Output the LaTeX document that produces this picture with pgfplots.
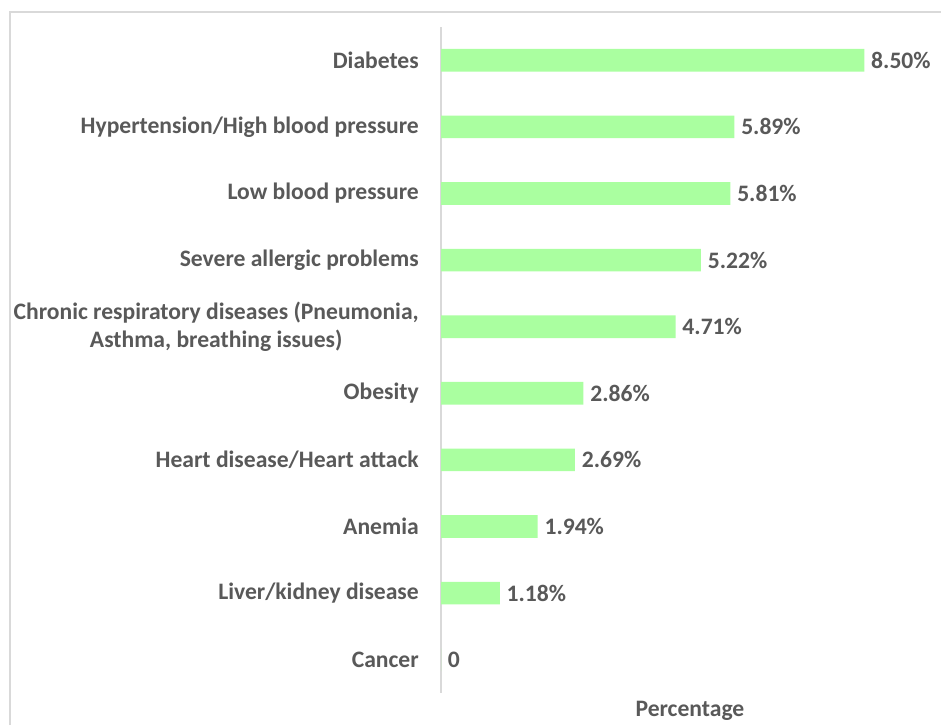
\documentclass[border=0pt]{standalone}
\usepackage{fontspec}
\setmainfont{Carlito}
\usepackage{pgfplots}
\usepackage{pgfplotstable}
\pgfplotsset{compat=1.18}
\definecolor{barg}{RGB}{170,255,160}
\definecolor{txt}{RGB}{89,89,89}
\definecolor{frm}{RGB}{217,217,217}
\pgfplotstableread[col sep=comma]{
idx,val,lab
0,8.50,8.50\%
1,5.89,5.89\%
2,5.81,5.81\%
3,5.22,5.22\%
4,4.71,4.71\%
5,2.86,2.86\%
6,2.69,2.69\%
7,1.94,1.94\%
8,1.18,1.18\%
9,0,0
}\datatable
\begin{document}
\begin{tikzpicture}[x=0.75pt,y=0.75pt]
\useasboundingbox (0,0) rectangle (941,725);
\fill[white] (0,0) rectangle (941,725);
\draw[frm,line width=0.8pt] (10,0) -- (10,713) -- (941,713);
\begin{axis}[
  at={(441pt*0.75,32pt*0.75)}, anchor=south west,
  scale only axis,
  width=373.5pt, height=499.5pt,
  xmin=0, xmax=10,
  ymin=-0.5, ymax=9.5,
  y dir=reverse,
  xbar, bar width=17pt,
  axis x line=none,
  axis y line*=left,
  y axis line style={draw=frm, line width=0.8pt},
  ytick={0,...,9},
  major tick length=0pt,
  yticklabels={Diabetes,Hypertension/High blood pressure,Low blood pressure,Severe allergic problems,{Chronic respiratory diseases (Pneumonia,\\Asthma, breathing issues)},Obesity,Heart disease/Heart attack,Anemia,Liver/kidney disease,Cancer},
  yticklabel style={font=\fontsize{17.7}{20.3}\selectfont\bfseries, text=txt, align=center, inner sep=0pt, xshift=-16.5pt},
  nodes near coords,
  point meta=explicit symbolic,
  nodes near coords style={font=\fontsize{17.7}{20.3}\selectfont\bfseries, text=txt, anchor=west, inner sep=0pt, xshift=5pt},
  clip=false,
]
\addplot[fill=barg, draw=none] table[x=val, y=idx, meta=lab] {\datatable};
\node[font=\fontsize{17.7}{20.3}\selectfont\bfseries, text=txt, anchor=north, inner sep=0pt] at (axis description cs:0.5,0) [yshift=-6pt] {Percentage};
\end{axis}
\end{tikzpicture}
\end{document}
